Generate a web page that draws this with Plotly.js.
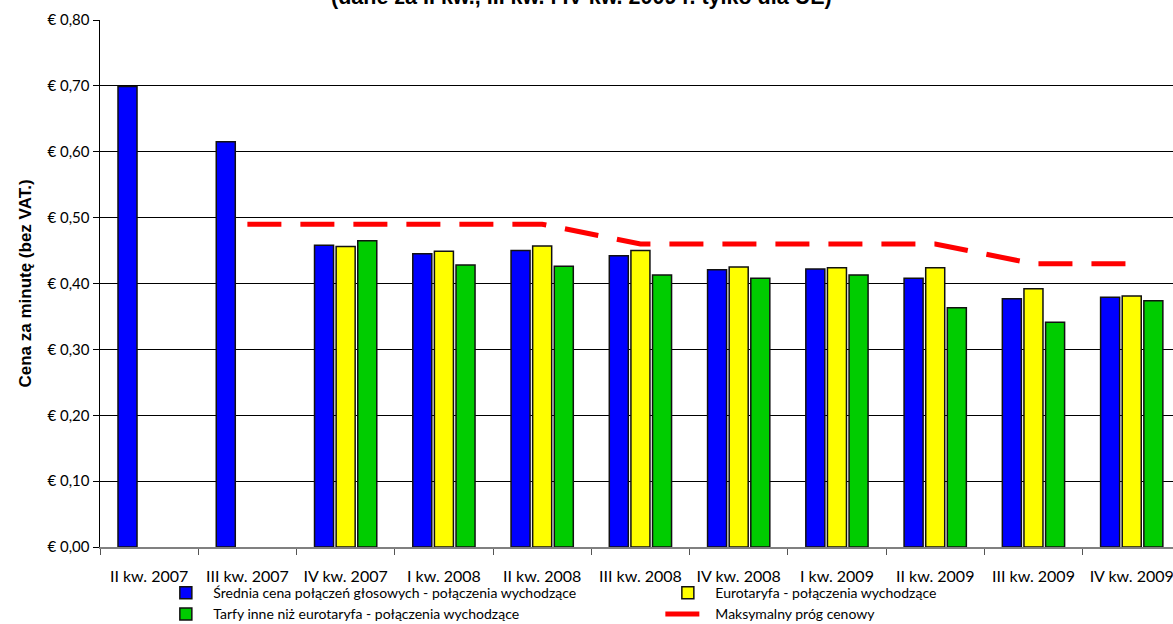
<!DOCTYPE html>
<html>
<head>
<meta charset="utf-8">
<script src="https://cdn.plot.ly/plotly-3.0.1.min.js"></script>
<style>html,body{margin:0;padding:0;background:#fff;}#chart{width:1173px;height:624px;}</style>
</head>
<body>
<div id="chart"></div>
<script>
const categories = ["II kw. 2007","III kw. 2007","IV kw. 2007","I kw. 2008","II kw. 2008","III kw. 2008","IV kw. 2008","I kw. 2009","II kw. 2009","III kw. 2009","IV kw. 2009"];
const avgPrice = [0.699, 0.615, 0.458, 0.445, 0.450, 0.442, 0.421, 0.422, 0.408, 0.377, 0.379];
const eurotariff = [null, null, 0.456, 0.449, 0.457, 0.450, 0.425, 0.424, 0.424, 0.392, 0.381];
const otherTariffs = [null, null, 0.465, 0.428, 0.426, 0.413, 0.408, 0.413, 0.363, 0.341, 0.374];
const priceCap = [null, 0.49, 0.49, 0.49, 0.49, 0.46, 0.46, 0.46, 0.46, 0.43, 0.43];

const seriesNames = ["Średnia cena połączeń głosowych - połączenia wychodzące","Eurotaryfa - połączenia wychodzące","Tarfy inne niż eurotaryfa - połączenia wychodzące","Maksymalny próg cenowy"];
const titleText = "(dane za II kw., III kw. i IV kw. 2009 r. tylko dla UE)";

const FONT = "Lato, 'Noto Sans', sans-serif";
const BOLDFONT = "'Liberation Sans', Arial, sans-serif";
const barLine = {color: "#111", width: 1.5};

const data = [
  {type: "bar", name: seriesNames[0], x: categories, y: avgPrice, marker: {color: "#0000FF", line: barLine}},
  {type: "bar", name: seriesNames[1], x: categories, y: eurotariff, marker: {color: "#FFFF00", line: barLine}},
  {type: "bar", name: seriesNames[2], x: categories, y: otherTariffs, marker: {color: "#00CC00", line: barLine}},
  {type: "scatter", mode: "lines", name: seriesNames[3], x: categories, y: priceCap, connectgaps: false,
   line: {color: "#FF0000", width: 5, dash: "34px,19px"}}
];

const layout = {
  width: 1173, height: 624,
  margin: {l: 99.5, r: 0, t: 20, b: 77},
  paper_bgcolor: "#fff", plot_bgcolor: "#fff",
  font: {family: FONT, size: 13, color: "#000"},
  separators: ", ",
  barmode: "group",
  bargap: 0.34,
  bargroupgap: 0.12,
  showlegend: true,
  annotations: [{
    text: titleText, showarrow: false,
    xref: "paper", yref: "paper",
    x: 0.4485, xanchor: "center",
    y: 1.0436, yanchor: "middle",
    font: {family: BOLDFONT, size: 21.5, color: "#000", weight: "bold"}
  }],
  xaxis: {
    type: "category",
    range: [-0.5, 10.42],
    showgrid: false,
    showline: true, linecolor: "#808080", linewidth: 1.5,
    ticks: "outside", tickson: "boundaries", ticklen: 6, tickcolor: "#555", tickwidth: 1,
    tickfont: {family: FONT, size: 16, color: "#000"},
    ticklabelstandoff: 14,
    tickangle: 0,
    zeroline: false,
    fixedrange: true
  },
  yaxis: {
    range: [0, 0.8],
    dtick: 0.1, tick0: 0,
    tickformat: ".2f", tickprefix: "€\u00a0",
    showgrid: true, gridcolor: "#000", gridwidth: 1,
    showline: true, linecolor: "#000", linewidth: 1.5,
    ticks: "outside", ticklen: 6, tickcolor: "#000",
    tickfont: {family: FONT, size: 15, color: "#000"},
    zeroline: false,
    title: {text: "Cena za minutę (bez VAT.)", font: {family: BOLDFONT, size: 17, color: "#000", weight: "bold"}, standoff: 11},
    fixedrange: true
  },
  legend: {
    orientation: "h",
    xref: "container", yref: "container",
    x: 0.135, xanchor: "left",
    y: 0.075, yanchor: "top",
    entrywidth: 442, entrywidthmode: "pixels",
    font: {family: FONT, size: 14, color: "#000"},
    itemwidth: 45,
    tracegroupgap: 0,
    bgcolor: "rgba(0,0,0,0)"
  }
};

Plotly.newPlot("chart", data, layout, {displayModeBar: false, staticPlot: true});
</script>
</body>
</html>
